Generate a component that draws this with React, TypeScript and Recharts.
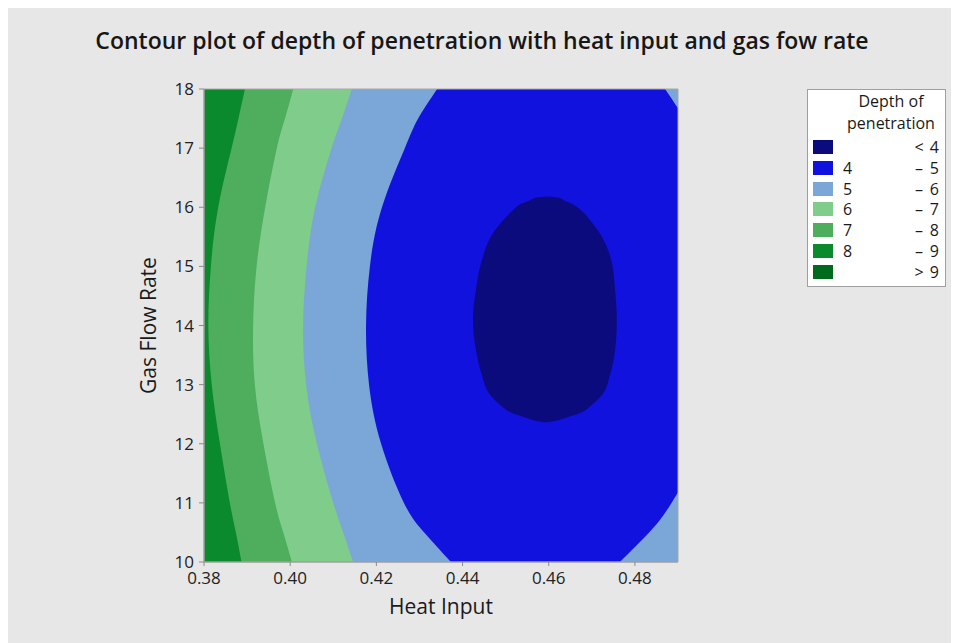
import React from 'react';
import {
  ComposedChart, Area, XAxis, YAxis, ReferenceArea,
} from 'recharts';

// gas flow rate rows where the contour edges were read
const FLOW = [10, 10.5, 11, 12, 13, 14, 15, 16, 17, 17.5, 18];

// heat input where each band ends, per row of FLOW
const EDGE_8_TO_7 = [0.3887, 0.3874, 0.386, 0.3837, 0.3818, 0.381, 0.3816, 0.3833, 0.3864, 0.388, 0.3895];
const EDGE_7_TO_6 = [0.4004, 0.3984, 0.3965, 0.3938, 0.3918, 0.3914, 0.3922, 0.3942, 0.3969, 0.3988, 0.4007];
const EDGE_6_TO_5 = [0.4146, 0.4123, 0.41, 0.4062, 0.4037, 0.403, 0.4038, 0.4058, 0.4096, 0.412, 0.4143];
const EDGE_5_TO_4_LEFT = [0.4373, 0.4311, 0.4264, 0.4211, 0.4183, 0.4176, 0.4185, 0.4213, 0.4266, 0.4297, 0.4341];
const EDGE_5_TO_4_RIGHT = [0.4765, 0.4833, 0.4885, 0.496, 0.501, 0.503, 0.502, 0.4985, 0.4945, 0.4915, 0.487];

// the < 4 core, read row by row
const CORE_FLOW = [12.36, 12.39, 12.44, 12.52, 12.66, 12.83, 13.16, 13.59, 14.09, 14.6, 15.11, 15.53, 15.78, 15.95, 16.06, 16.12, 16.16, 16.18];
const CORE_LEFT = [0.4594, 0.457, 0.4547, 0.4515, 0.4487, 0.4464, 0.4445, 0.4431, 0.4424, 0.4431, 0.4445, 0.4468, 0.4494, 0.4517, 0.4536, 0.4557, 0.457, 0.4598];
const CORE_RIGHT = [0.4594, 0.4617, 0.464, 0.4673, 0.47, 0.4724, 0.4742, 0.4754, 0.4758, 0.4754, 0.4745, 0.4721, 0.4696, 0.4675, 0.4654, 0.4635, 0.4623, 0.4598];

const X_MIN = 0.38;
const X_MAX = 0.49;
const X_TICKS = [0.38, 0.4, 0.42, 0.44, 0.46, 0.48];
const Y_TICKS = [10, 11, 12, 13, 14, 15, 16, 17, 18];

const LEGEND_LOW = ['', '4', '5', '6', '7', '8', ''];
const LEGEND_SEP = ['<', '–', '–', '–', '–', '–', '>'];
const LEGEND_HIGH = ['4', '5', '6', '7', '8', '9', '9'];
const LEGEND_COLORS = ['#0b0b7e', '#1212de', '#7ba6d8', '#80cc8a', '#4fae5d', '#0a8a2c', '#006b1c'];

const FONT = '"Open Sans", "Noto Sans", sans-serif';

const band = (lo: number[] | number, hi: number[] | number, rows = FLOW) =>
  rows.map((flow, i) => ({
    flow,
    range: [Array.isArray(lo) ? lo[i] : lo, Array.isArray(hi) ? hi[i] : hi],
  }));

const backgroundBand = band(X_MIN, X_MAX, [10, 18]);
const band6 = band(X_MIN, EDGE_6_TO_5);
const band7 = band(X_MIN, EDGE_7_TO_6);
const band8 = band(X_MIN, EDGE_8_TO_7);
const band4 = band(EDGE_5_TO_4_LEFT, EDGE_5_TO_4_RIGHT);
const bandCore = band(CORE_LEFT, CORE_RIGHT, CORE_FLOW);

const areaProps = {
  dataKey: 'range',
  stroke: 'none',
  fillOpacity: 1,
  isAnimationActive: false,
  dot: false,
  activeDot: false,
  type: 'natural' as const,
};

function DepthLegend() {
  return (
    <div style={{
      position: 'absolute', left: 799, top: 81, width: 139, height: 198,
      background: '#fff', border: '1px solid #a0a0a0', fontFamily: FONT,
      fontSize: 16, color: '#1a1a1a', boxSizing: 'border-box',
    }}>
      <div style={{ position: 'absolute', left: 28, width: 110, top: 1, textAlign: 'center', lineHeight: '20px' }}>
        Depth of
      </div>
      <div style={{ position: 'absolute', left: 28, width: 110, top: 23, textAlign: 'center', lineHeight: '20px' }}>
        penetration
      </div>
      {LEGEND_COLORS.map((c, i) => (
        <div key={i} style={{ position: 'absolute', left: 0, top: 49 + i * 20.8, width: 137, height: 16, lineHeight: '20px' }}>
          <div style={{ position: 'absolute', left: 5, top: 1, width: 20, height: 14, background: c }} />
          <span style={{ position: 'absolute', left: 35, top: -2 }}>{LEGEND_LOW[i]}</span>
          <span style={{ position: 'absolute', left: 103, width: 16, textAlign: 'center', top: -2 }}>{LEGEND_SEP[i]}</span>
          <span style={{ position: 'absolute', right: 6, top: -2 }}>{LEGEND_HIGH[i]}</span>
        </div>
      ))}
    </div>
  );
}

export default function App() {
  return (
    <div style={{ position: 'relative', width: 951, height: 635, background: '#e7e7e7', fontFamily: FONT }}>
      <div style={{
        position: 'absolute', top: 16, left: 0, width: 948, textAlign: 'center',
        fontSize: 23, fontWeight: 600, color: '#161616',
      }}>
        Contour plot of depth of penetration with heat input and gas fow rate
      </div>
      <ComposedChart
        width={951}
        height={635}
        layout="vertical"
        margin={{ top: 81, right: 281, bottom: 21, left: 135 }}
      >
        <XAxis
          type="number"
          dataKey="range"
          domain={[X_MIN, X_MAX]}
          ticks={X_TICKS}
          allowDataOverflow
          height={60}
          tickFormatter={(v: number) => v.toFixed(2)}
          tick={{ fill: '#222', fontSize: 17, fontFamily: FONT }}
          tickLine={{ stroke: '#8a8a8a' }}
          axisLine={{ stroke: '#9a9a9a' }}
          tickSize={4}
          tickMargin={6}
          label={{ value: 'Heat Input', position: 'insideBottom', offset: 8, fill: '#1a1a1a', fontSize: 21, fontFamily: FONT }}
        />
        <YAxis
          type="number"
          dataKey="flow"
          domain={[10, 18]}
          ticks={Y_TICKS}
          reversed
          allowDataOverflow
          width={61}
          tick={{ fill: '#222', fontSize: 17, fontFamily: FONT }}
          tickLine={{ stroke: '#8a8a8a' }}
          axisLine={{ stroke: '#9a9a9a' }}
          tickSize={5}
          tickMargin={5}
          label={{
            value: 'Gas Flow Rate', angle: -90, position: 'insideLeft', offset: 6,
            fill: '#1a1a1a', fontSize: 21, fontFamily: FONT, style: { textAnchor: 'middle' },
          }}
        />
        <Area {...areaProps} data={backgroundBand} fill={LEGEND_COLORS[2]} type="linear" />
        <Area {...areaProps} data={band6} fill={LEGEND_COLORS[3]} />
        <Area {...areaProps} data={band7} fill={LEGEND_COLORS[4]} />
        <Area {...areaProps} data={band8} fill={LEGEND_COLORS[5]} />
        <Area {...areaProps} data={band4} fill={LEGEND_COLORS[1]} />
        <Area {...areaProps} data={bandCore} fill={LEGEND_COLORS[0]} type="monotone" />
        <ReferenceArea x1={X_MIN} x2={X_MAX} y1={10} y2={18} fill="none" stroke="#a8a8a8" strokeWidth={1} ifOverflow="visible" />
      </ComposedChart>
      <DepthLegend />
    </div>
  );
}
